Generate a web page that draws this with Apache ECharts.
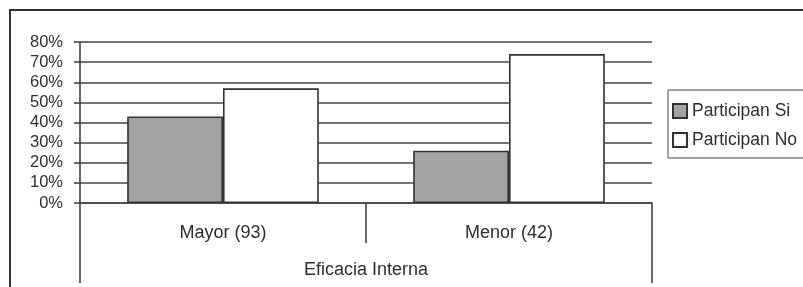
<!DOCTYPE html>
<html>
<head>
<meta charset="utf-8">
<script src="https://cdn.jsdelivr.net/npm/echarts@6/dist/echarts.min.js"></script>
<style>
html,body{margin:0;padding:0;background:#fff;}
#c{width:803px;height:287px;}
</style>
</head>
<body>
<div id="c"></div>
<script>
const categories = ['Mayor (93)', 'Menor (42)'];
const groupLabel = ['Eficacia Interna'];
const seriesNames = ['Participan Si', 'Participan No'];
const participanSi = [43, 26];
const participanNo = [57, 74];
const yTicks = [0, 10, 20, 30, 40, 50, 60, 70, 80];

const lineColor = '#444444';
const textColor = '#2e2e2e';
const font = 'Liberation Sans, Arial, sans-serif';

const chart = echarts.init(document.getElementById('c'), null, {renderer: 'canvas'});
chart.setOption({
  animation: false,
  backgroundColor: '#ffffff',
  graphic: [{
    type: 'rect',
    shape: {x: 10, y: 10, width: 820, height: 320},
    style: {fill: 'none', stroke: '#333', lineWidth: 2},
    silent: true
  }],
  grid: {left: 80, right: 151, top: 42, bottom: 84, containLabel: false},
  legend: {
    orient: 'vertical',
    left: 668,
    top: 90,
    padding: [12, 14, 9, 4],
    itemGap: 11,
    itemWidth: 14,
    itemHeight: 14,
    icon: 'rect',
    borderColor: '#444',
    borderWidth: 1,
    textStyle: {fontFamily: font, fontSize: 17.5, color: textColor, lineHeight: 17},
    data: seriesNames
  },
  xAxis: [{
    type: 'category',
    data: categories,
    position: 'bottom',
    axisLine: {show: true, lineStyle: {color: lineColor, width: 1.6}},
    axisTick: {show: true, length: 40, alignWithLabel: false, lineStyle: {color: lineColor, width: 1.6}},
    axisLabel: {fontFamily: font, fontSize: 18, color: textColor, margin: 21},
    splitLine: {show: false}
  }, {
    type: 'category',
    data: groupLabel,
    position: 'bottom',
    offset: 40,
    axisLine: {show: false},
    axisTick: {show: true, length: 40, alignWithLabel: false, lineStyle: {color: lineColor, width: 1.6}},
    axisLabel: {fontFamily: font, fontSize: 18, color: textColor, margin: 18},
    splitLine: {show: false}
  }],
  yAxis: {
    type: 'value',
    min: yTicks[0],
    max: yTicks[yTicks.length - 1],
    interval: 10,
    axisLine: {show: true, lineStyle: {color: lineColor, width: 1.6}},
    axisTick: {show: true, length: 6, lineStyle: {color: lineColor, width: 1.6}},
    axisLabel: {fontFamily: font, fontSize: 16.5, color: textColor, margin: 17, formatter: '{value}%'},
    splitLine: {show: true, lineStyle: {color: lineColor, width: 1.6}}
  },
  series: [{
    name: seriesNames[0],
    type: 'bar',
    xAxisIndex: 0,
    data: participanSi,
    barCategoryGap: '33%',
    barGap: '0%',
    itemStyle: {color: '#a3a3a6', borderColor: '#333', borderWidth: 1.6}
  }, {
    name: seriesNames[1],
    type: 'bar',
    xAxisIndex: 0,
    data: participanNo,
    barCategoryGap: '33%',
    barGap: '0%',
    itemStyle: {color: '#ffffff', borderColor: '#333', borderWidth: 1.6}
  }]
});
</script>
</body>
</html>
